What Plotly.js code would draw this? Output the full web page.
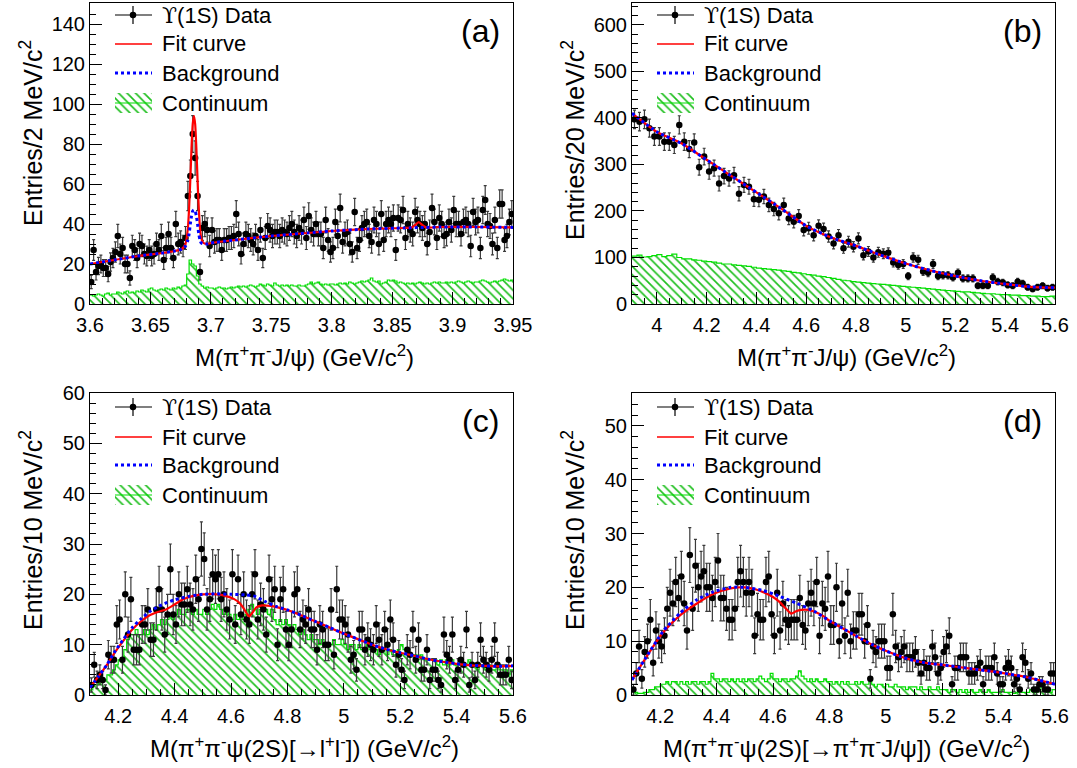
<!DOCTYPE html>
<html><head><meta charset="utf-8">
<script src="https://cdn.plot.ly/plotly-3.0.1.min.js"></script>
<style>html,body{margin:0;padding:0;background:#fff}</style>
</head><body><div id="chart" style="width:1077px;height:768px"></div>
<script>
// ---------- binning ----------
const aLo = 3.6, aBin = 0.002;
const bLo = 3.9, bBin = 0.02;
const cLo = 4.1, cBin = 0.01;
const dLo = 4.1, dBin = 0.01;

// ---------- panel (a): M(pi+pi- J/psi), 2 MeV bins ----------
const aData = [11,27,16,19,20,18,18,15,21,23,26,34,25,28,20,20,13,29,27,23,30,29,25,24,27,24,25,30,27,34,22,28,35,28,23,40,30,31,29,33,
54,64,85,73,54,16,38,40,37,29,37,31,32,32,27,32,32,33,33,34,45,35,25,30,35,34,32,30,34,27,37,23,33,39,37,34,36,36,34,37,36,35,38,40,36,34,38,
36,42,33,44,37,35,40,35,35,28,42,32,26,28,41,34,48,31,35,36,30,26,46,28,32,38,40,41,34,31,42,40,30,45,32,40,42,40,43,27,43,42,47,33,40,37,35,46,42,40,38,40,30,36,48,41,33,43,40,34,35,41,37,47,40,40,35,41,42,40,29,46,41,42,28,47,52,40,39,30,42,28,50,50,32,34,41,45];
const aCont = [4.5,4,4.5,5,4.5,4,5,5.5,4.5,5, 5,6,5.5,5,6,6.5,5.5,6,5.5,6.5, 6,7,6.5,6,7.5,8,7,6.5,7,7.5, 7,8,7.5,7,8,7.5,8.5,8,9,9.5,
15,22,20,19,14,10,9,8,8.5,8, 8,7.5,8,8.5,8,8,7.5,8,8.5,8, 8.5,9,8.5,9,8.5,9,9.5,9,8.5,9, 10,9.5,9,10,9.5,9,10.5,9.5,9,9.5,
9,9.5,9,9.5,9,9,9.5,9,9,9.5, 10,11,10,10.5,11,10,9.5,10,9.5,10, 10,9.5,10,10.5,10,10.5,10,11,10.5,10, 10.5,11,11.5,11,11.5,12,13,11.5,11,11.5,
10,10.5,11,12,11.5,12,11.5,10.5,11,10.5, 10,10.5,10,10.5,10,10.5,11,10.5,10,10.5, 10,10.5,11,10.5,11,10.5,10.5,11,10.5,11,
10.5,11,11.5,11,10.5,11,11.5,11,10.5,11, 11,11.5,12,11.5,11,10.5,11,11.5,11,11.5, 12,12.5,12,11.5,12];
const aFitX = [3.600,3.620,3.640,3.660,3.670,3.676,3.679,3.681,3.682,3.683,3.684,3.685,3.686,3.687,3.688,3.689,3.690,3.691,3.692,3.694,3.697,3.700,3.720,3.750,3.780,3.800,3.830,3.860,3.866,3.870,3.872,3.874,3.878,3.890,3.920,3.950];
const aFit  = [20,22,24,25.5,26.5,27.5,30,38,48,62,78,90,94,90,78,62,48,38,33,30.5,30,30.5,32,34,35.5,36.5,37.5,38,38.2,40,41,40,38.3,38.5,38.5,38.3];
const aBkg  = [20,22,24,25.5,26.5,27.5,29,32,35,40,44,46.5,47,46.5,44,40,35,32,30.5,30,30,30.5,32,34,35.5,36.5,37.5,38,38.1,38.2,38.2,38.2,38.3,38.5,38.5,38.3];

// ---------- panel (b): M(pi+pi- J/psi), 20 MeV bins ----------
const bData = [397,392,397,378,360,360,349,349,342,385, 349,333,347,294,317,285,292,259,275,270, 277,237,256,252,225,224,231,213,204,195,
213,184,177,189,159,163,148,168,161,145, 130,148,120,134,123,141,105,113,100,111, 108,110,89,84,86,60,100,95,70,67,
86,60,62,62,57,67,55,55,55,39, 39,39,57,48,46,41,39,48,44,36, 32,36,39,34,36];
const bCont = [103,105,101,102,104,106,102,104,107,100, 97,97,95,94,92,91,90,88,86,86, 84,83,82,81,79,77,76,75,74,73,
71,70,68,67,65,63,62,60,59,57, 55,53,51,50,48,47,46,45,44,43, 42,41,40,39,38,37,36,35,34,33,
32,31,30,29,28,27,26,26,25,24, 23,22,22,21,20,20,19,19,18,18, 17,17,16,16,17];
const bFitX = [3.9,4.0,4.1,4.2,4.3,4.4,4.5,4.6,4.7,4.8,4.9,5.0,5.1,5.2,5.3,5.4,5.5,5.6];
const bFit  = [410,370,345,310,275,240,205,168,143,125,105,87,72,60,50,43,37,35];
const bBkg  = [410,370,345,310,275,240,205,168,143,125,105,87,72,60,50,43,37,35];

// ---------- panel (c): M(pi+pi- psi(2S)[->l+l-]), 10 MeV bins ----------
const cData = [2,6,3,4,3,1,8,7,7,14, 15,7,20,12,19,9,9,9,14,14, 17,11,11,17,21,17,12,16,25,16, 14,20,18,18,21,18,17,23,19,29,
27,17,19,24,23,24,19,20,17,15, 24,14,23,16,20,15,14,20,24,15, 18,17,12,23,19,21,10,19,21,13, 10,13,20,21,13,15,14,17,13,13,
9,14,13,10,10,17,8,21,15,15, 14,12,7,8,5,13,13,9,11,10, 9,14,11,9,13,10,15,11,6,8, 5,3,9,8,13,7,11,5,5,9,
3,5,5,3,2,12,8,7,12,3, 5,7,6,13,2,6,3,6,11,7, 6,5,7,11,6,4,4,4,7,3];
const cCont = [1,2,2,3,3,3,4,4,5,6, 7,7,9,11,12,12,13,12,12,13, 12,13,14,13,14,15,14,15,16,15, 16,17,16,16,17,17,16,17,16,16,
17,16,17,18,17,18,17,16,17,16, 15,16,15,16,15,16,17,18,17,16, 17,18,17,16,17,15,14,15,14,15, 14,13,14,13,12,13,12,11,12,11,
11,10,11,10,10,10,11,10,10,11, 10,9,10,10,9,10,9,9,10,9, 9,9,8,9,9,8,9,8,8,9, 10,9,8,8,8,8,7,8,7,7,
7,7,7,6,7,6,7,6,7,6, 6,7,6,6,7,6,6,5,6,6, 5,6,5,5,6,5,5,5,4,5];
const cBkgX = [4.1,4.13,4.16,4.19,4.22,4.25,4.28,4.31,4.34,4.37,4.4,4.45,4.5,4.55,4.6,4.65,4.68,4.72,4.76,4.8,4.85,4.9,4.95,5.0,5.05,5.1,5.15,5.2,5.25,5.3,5.35,5.4,5.45,5.5,5.55,5.6];
const cBkg  = [1.5,3.7,6.0,8.8,11.2,13.4,15.1,16.5,17.5,18.3,18.9,19.6,20.0,20.1,20.0,19.9,19.7,18.6,17.6,16.9,15.8,14.6,13.4,12.2,11.1,10.0,9.1,8.4,7.8,7.1,6.6,6.2,5.9,5.8,5.7,5.8];
const cFitX = [4.1,4.13,4.16,4.19,4.22,4.25,4.28,4.31,4.34,4.37,4.4,4.43,4.46,4.5,4.55,4.58,4.61,4.63,4.645,4.657,4.665,4.675,4.69,4.71,4.74,4.78,4.8,4.85,4.9,4.95,5.0,5.05,5.1,5.15,5.2,5.25,5.3,5.35,5.4,5.45,5.5,5.55,5.6];
const cFit  = [1.5,3.7,6.0,8.6,10.9,13.0,14.6,15.8,16.5,17.0,18.0,19.0,19.6,20.0,20.0,19.7,19.1,18.3,17.2,16.1,15.6,16.3,17.4,17.8,17.7,17.2,16.9,15.8,14.6,13.4,12.2,11.1,10.0,9.1,8.4,7.8,7.1,6.6,6.2,5.9,5.8,5.7,5.8];

// ---------- panel (d): M(pi+pi- psi(2S)[->pi+pi- J/psi]), 10 MeV bins ----------
const dData = [1,4,9,3,8,10,14,6,12,10, 9,11,16,19,17,21,18,22,17,12, 26,16,24,20,22,23,20,20,18,21, 25,18,18,16,14,14,16,21,23,21,
19,21,19,11,15,14,14,21,22,15, 11,19,12,17,14,13,14,14,14,18, 13,12,17,19,17,21,11,17,16,22, 13,13,20,10,17,11,19,10,12,12,
15,15,10,13,3,9,8,10,10,10, 5,5,15,9,7,8,9,7,7,7, 8,6,4,6,5,5,9,7,4,5, 8,9,11,2,5,5,7,7,7,4,
4,4,5,6,2,5,5,5,7,4, 2,2,5,6,5,2,3,1,7,6, 3,4,1,1,2,2,1,1,4,4];
const dCont = [1,0.5,0.3,0.3,0.5,0.5,1,1,1.5,1.5, 2,2,2.5,2,2.5,2.5,2,2.5,2,2.5, 2,2.5,2.5,2,2.5,2.5,2,2.5,4,3, 3,2.5,3,3,2.5,3,2.5,3,2.5,3,
2.5,3,3,2.5,3,3.5,3,2.5,3,4, 3,3,2.5,3,3,2.5,3,3,3.5,4.5, 3.5,3,2.5,3,2.5,3,2.5,2.5,3,2.5, 2.5,2,2.5,2,2.5,2,2.5,2,2,2.5,
2,2.5,2,2,2.5,2,1.5,2,2,1.5, 2,1.5,1.5,2,1.5,1.5,1.5,1,1.5,1.5, 1.5,1,1.5,1,1,1.5,1,1,1.5,1, 1,1,0.5,1,1,0.5,1,0.5,1,0.5,
1,0.5,0.5,1,0.5,0.5,1,0.5,0.5,0.5, 0.5,1,0.5,0.5,0.5,0.3,0.5,1,0.5,0.5, 0.5,1,0.5,0.5,1,1.5,1,0.5,0.5,1];
const dBkgX = [4.1,4.15,4.21,4.27,4.33,4.39,4.45,4.5,4.565,4.625,4.685,4.745,4.8,4.85,4.9,4.95,5.0,5.05,5.1,5.15,5.2,5.3,5.4,5.5,5.6];
const dBkg  = [2.8,7.0,11.8,15.2,17.7,19.2,20.0,20.0,19.4,18.3,17.0,15.6,13.8,12.3,10.8,9.4,8.2,7.2,6.4,5.9,5.6,4.9,4.2,3.3,2.0];
const dFitX = [4.1,4.15,4.21,4.27,4.33,4.39,4.45,4.5,4.54,4.57,4.6,4.625,4.645,4.665,4.68,4.7,4.725,4.75,4.78,4.8,4.85,4.9,4.95,5.0,5.05,5.1,5.15,5.2,5.3,5.4,5.5,5.6];
const dFit  = [2.8,7.0,11.6,14.8,17.0,18.8,19.8,20.0,19.6,19.0,18.2,17.2,16.1,15.1,15.5,15.8,15.8,15.4,14.6,13.8,12.3,10.8,9.4,8.2,7.2,6.4,5.9,5.6,4.9,4.2,3.3,2.0];

// ---------- text ----------
const legendLabels = ["<span style=\"font-family:DejaVu Serif\">\u03D2</span>(1S) Data", "Fit curve", "Background", "Continuum"];
const panelLabels = ["(a)", "(b)", "(c)", "(d)"];
const xTitles = ["M(\u03C0<sup>+</sup>\u03C0<sup>-</sup>J/\u03C8) (GeV/c<sup>2</sup>)",
                 "M(\u03C0<sup>+</sup>\u03C0<sup>-</sup>J/\u03C8) (GeV/c<sup>2</sup>)",
                 "M(\u03C0<sup>+</sup>\u03C0<sup>-</sup>\u03C8(2S)[\u2192l<sup>+</sup>l<sup>-</sup>]) (GeV/c<sup>2</sup>)",
                 "M(\u03C0<sup>+</sup>\u03C0<sup>-</sup>\u03C8(2S)[\u2192\u03C0<sup>+</sup>\u03C0<sup>-</sup>J/\u03C8]) (GeV/c<sup>2</sup>)"];
const yTitles = ["Entries/2 MeV/c<sup>2</sup>", "Entries/20 MeV/c<sup>2</sup>", "Entries/10 MeV/c<sup>2</sup>", "Entries/10 MeV/c<sup>2</sup>"];

// ---------- build ----------
const W = 1077, H = 768;
const FONT = "Liberation Sans, Arial, Helvetica, sans-serif";
const PX = v => v / W, PY = v => 1 - v / H;
const GREEN_LINE = '#00e000', GREEN_HATCH = '#1fbf1f';
const HATCH = {shape:'\\', fgcolor:GREEN_HATCH, bgcolor:'rgba(0,0,0,0)', size:6, solidity:0.28};

const panels = [
  {lo:aLo, bin:aBin, data:aData, cont:aCont, fitX:aFitX, fit:aFit, bkgX:aFitX, bkg:aBkg, box:[90,3,513,304], xr:[3.6,3.95], yr:[0,150.5], xd:0.05, xm:0.01, x0:3.6, yd:20, ym:5, rows:[15,44,73,103]},
  {lo:bLo, bin:bBin, data:bData, cont:bCont, fitX:bFitX, fit:bFit, bkgX:bFitX, bkg:bBkg, box:[632,3,1055,304], xr:[3.9,5.6], yr:[0,647], xd:0.2, xm:0.05, x0:4.0, yd:100, ym:20, rows:[15,44,73,103]},
  {lo:cLo, bin:cBin, data:cData, cont:cCont, fitX:cFitX, fit:cFit, bkgX:cBkgX, bkg:cBkg, box:[90,393,513,695], xr:[4.1,5.6], yr:[0,60], xd:0.2, xm:0.05, x0:4.2, yd:10, ym:2, rows:[407,437,465,495]},
  {lo:dLo, bin:dBin, data:dData, cont:dCont, fitX:dFitX, fit:dFit, bkgX:dBkgX, bkg:dBkg, box:[632,393,1055,695], xr:[4.1,5.6], yr:[0,56.1], xd:0.2, xm:0.05, x0:4.2, yd:10, ym:2, rows:[407,437,465,495]}
];

const traces = [];
const layout = {
  width: W, height: H, margin: {l:0, r:0, t:0, b:0},
  paper_bgcolor: '#fff', plot_bgcolor: 'rgba(0,0,0,0)',
  showlegend: false, font: {family: FONT, size: 20, color: '#000'},
  annotations: [], shapes: []
};

panels.forEach((p, k) => {
  const n = k + 1, xa = 'x' + (n > 1 ? n : ''), ya = 'y' + (n > 1 ? n : '');
  const [l, t, r, b] = p.box;
  const axBase = {showline:true, linecolor:'#000', linewidth:1, mirror:true, ticks:'inside', ticklen:12, tickwidth:1, tickcolor:'#000',
                  showgrid:false, zeroline:false, tickfont:{family:FONT, size:20, color:'#000'}, fixedrange:true};
  layout['xaxis' + (n > 1 ? n : '')] = Object.assign({}, axBase, {domain:[PX(l), PX(r)], range:p.xr, anchor:ya, tick0:p.x0, dtick:p.xd,
        ticklabelstandoff:3, minor:{ticks:'inside', ticklen:6, dtick:p.xm, tick0:p.x0, tickcolor:'#000'}});
  layout['yaxis' + (n > 1 ? n : '')] = Object.assign({}, axBase, {domain:[PY(b), PY(t)], range:p.yr, anchor:xa, tick0:0, dtick:p.yd,
        minor:{ticks:'inside', ticklen:6, dtick:p.ym, tick0:0, tickcolor:'#000'}});

  // continuum histogram (steps)
  const ex = [], ey = [];
  for (let i = 0; i <= p.cont.length; i++) { ex.push(p.lo + i * p.bin); ey.push(p.cont[Math.min(i, p.cont.length - 1)]); }
  traces.push({x:ex, y:ey, xaxis:xa, yaxis:ya, mode:'lines', line:{shape:'hv', color:GREEN_LINE, width:1.2},
               fill:'tozeroy', fillcolor:'rgba(0,0,0,0)', fillpattern:HATCH, hoverinfo:'skip'});
  // data points
  const cx = p.data.map((v, i) => p.lo + (i + 0.5) * p.bin);
  traces.push({x:cx, y:p.data, xaxis:xa, yaxis:ya, mode:'markers', marker:{color:'#000', size:6.5},
               error_y:{type:'data', array:p.data.map(v => Math.sqrt(v)), color:'#3a3a3a', thickness:1.2, width:1.5}, hoverinfo:'skip'});
  // fit and background
  traces.push({x:p.fitX, y:p.fit, xaxis:xa, yaxis:ya, mode:'lines', line:{color:'#ff0000', width:2.2, shape:'spline', smoothing:0.6}, hoverinfo:'skip'});
  traces.push({x:p.bkgX, y:p.bkg, xaxis:xa, yaxis:ya, mode:'lines', line:{color:'#0000ff', width:3, dash:'dot', shape:'spline', smoothing:0.6}, hoverinfo:'skip'});

  // legend glyphs (pixel overlay axes x5/y5)
  const gx0 = l + 25, gx1 = l + 62, gxc = l + 43, R = p.rows;
  traces.push({x:[gx0, gx1], y:[R[0], R[0]], xaxis:'x5', yaxis:'y5', mode:'lines', line:{color:'#000', width:1.2}, hoverinfo:'skip'});
  traces.push({x:[gxc, gxc], y:[R[0]-9, R[0]+9], xaxis:'x5', yaxis:'y5', mode:'lines', line:{color:'#000', width:1.2}, hoverinfo:'skip'});
  traces.push({x:[gxc], y:[R[0]], xaxis:'x5', yaxis:'y5', mode:'markers', marker:{color:'#000', size:6.5}, hoverinfo:'skip'});
  traces.push({x:[gx0, gx1], y:[R[1], R[1]], xaxis:'x5', yaxis:'y5', mode:'lines', line:{color:'#ff0000', width:1.5}, hoverinfo:'skip'});
  traces.push({x:[gx0, gx1], y:[R[2], R[2]], xaxis:'x5', yaxis:'y5', mode:'lines', line:{color:'#0000ff', width:3, dash:'dot'}, hoverinfo:'skip'});
  traces.push({x:[gx0, gx1, gx1, gx0, gx0], y:[R[3]-10, R[3]-10, R[3]+10, R[3]+10, R[3]-10], xaxis:'x5', yaxis:'y5', mode:'lines', line:{width:0, color:'rgba(0,0,0,0)'},
               fill:'toself', fillcolor:'rgba(0,0,0,0)', fillpattern:HATCH, hoverinfo:'skip'});
  traces.push({x:[gx0, gx1], y:[R[3], R[3]], xaxis:'x5', yaxis:'y5', mode:'lines', line:{color:GREEN_LINE, width:1.2}, hoverinfo:'skip'});

  legendLabels.forEach((s, j) => layout.annotations.push({text:s, xref:'paper', yref:'paper', x:PX(l + 70), y:PY(R[j]), xanchor:'left', yanchor:'middle',
      showarrow:false, font:{family:FONT, size:22, color:'#000'}}));
  layout.annotations.push({text:panelLabels[k], xref:'paper', yref:'paper', x:PX(l + 390), y:PY(t + 28), xanchor:'center', yanchor:'middle',
      showarrow:false, font:{family:FONT, size:32, color:'#000'}});
  layout.annotations.push({text:xTitles[k], xref:'paper', yref:'paper', x:PX((l + r) / 2 + 3), y:PY(b + 52), xanchor:'center', yanchor:'middle',
      showarrow:false, font:{family:FONT, size:24, color:'#000'}});
  layout.annotations.push({text:yTitles[k], xref:'paper', yref:'paper', x:PX(l - 59), y:PY(t + 35), xanchor:'center', yanchor:'top', textangle:-90,
      showarrow:false, font:{family:FONT, size:25, color:'#000'}});
});

layout.xaxis5 = {domain:[0,1], range:[0,W], visible:false, anchor:'y5', fixedrange:true};
layout.yaxis5 = {domain:[0,1], range:[H,0], visible:false, anchor:'x5', fixedrange:true};

Plotly.newPlot('chart', traces, layout, {staticPlot:true, displayModeBar:false});
</script></body></html>
